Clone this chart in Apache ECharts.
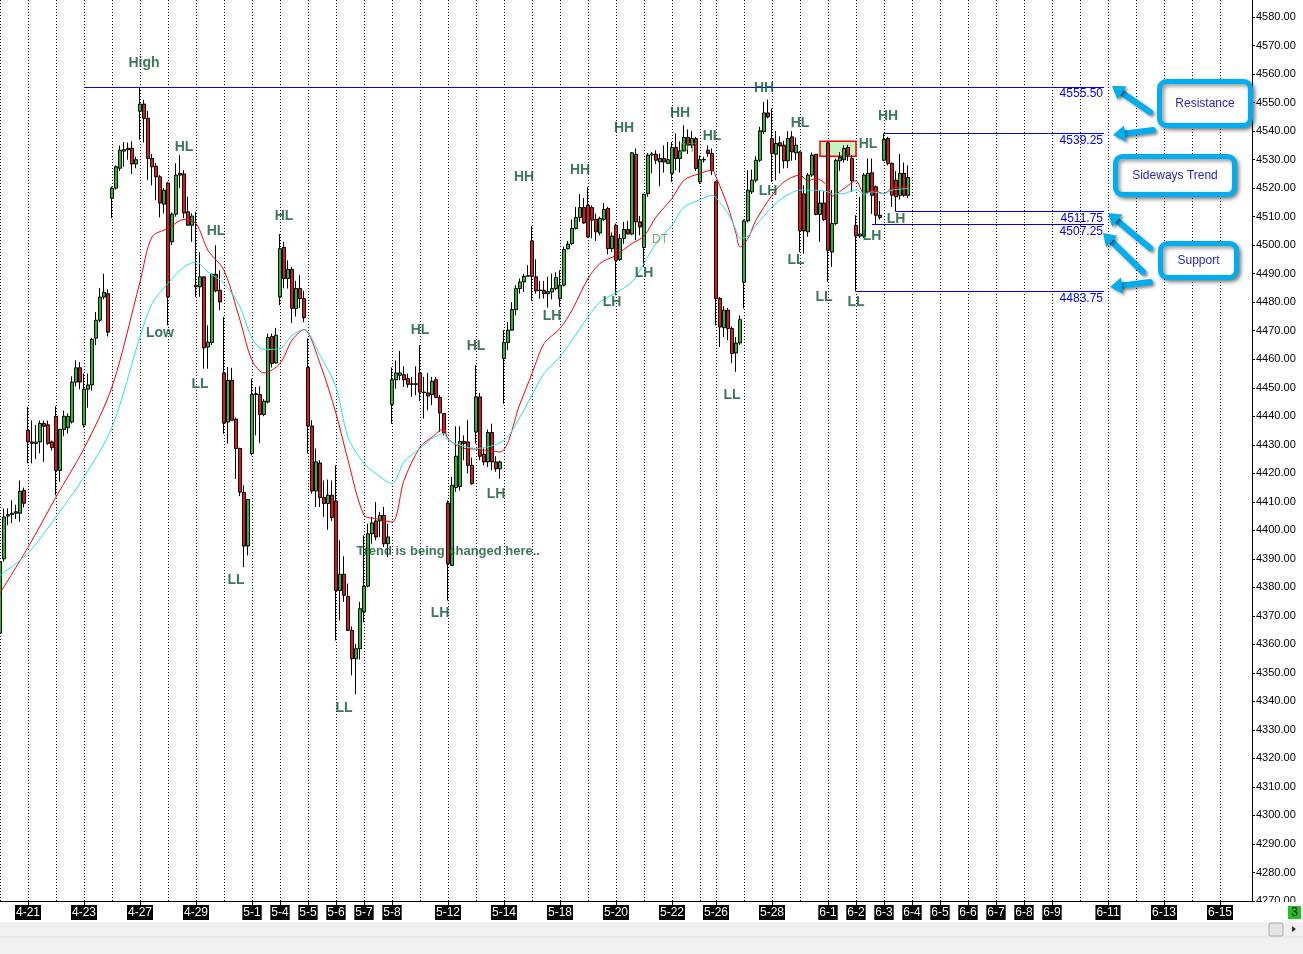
<!DOCTYPE html>
<html lang="en">
<head>
    <meta charset="UTF-8">
    <title>Support / Resistance</title>
    <script src="https://cdn.jsdelivr.net/npm/echarts@6.0.0/dist/echarts.min.js"></script>
    <style>
        html, body { margin: 0; padding: 0; background: #fff; }
        #chart { width: 1303px; height: 954px; }
    </style>
</head>
<body>
    <div id="chart"></div>
    <script>
        // trading days and how many bar slots each one takes on the axis
        const dayLabels = ['4-20','4-21','4-22','4-23','4-24','4-27','4-28','4-29','4-30','5-1',
            '5-4','5-5','5-6','5-7','5-8','5-11','5-12','5-13','5-14','5-15',
            '5-18','5-19','5-20','5-21','5-22','5-25','5-26','5-27','5-28','5-29',
            '6-1','6-2','6-3','6-4','6-5','6-6','6-7','6-8','6-9','6-10',
            '6-11','6-12','6-13','6-14','6-15',''];
        const daySlots = [7,7,7,7,7,7,7,7,7,7, 7,7,7,7,7,7,7,7,7,7, 7,7,7,7,7,4,7,7,7,7,
            7,7,7,7,7,7,7,7,7,7, 7,7,7,7,7,2];
        const shownDates = ['4-21','4-23','4-27','4-29','5-1','5-4','5-5','5-6','5-7','5-8',
            '5-12','5-14','5-18','5-20','5-22','5-26','5-28','6-1','6-2','6-3',
            '6-4','6-5','6-6','6-7','6-8','6-9','6-11','6-13','6-15'];
        const yTicks = { min: 4270, max: 4586, step: 10 };

        // open, close, low, high
        const bars = [
            [4364,4389,4362,4396],[4390,4404.7,4389,4407.7],[4405,4405.5,4401.8,4407.7],[4405.5,4406,4402.5,4410.5],
            [4406,4406.5,4404,4409],[4406,4413.7,4403,4417.5],[4414,4409.5,4408,4415],
            [4435,4431,4423.5,4443.3],[4431,4430.5,4423.5,4438.6],[4430.5,4431,4425,4437],[4431,4437.5,4427,4438.5],
            [4437.5,4436.5,4424,4438.5],[4437,4430.5,4430,4438.5],[4431,4429,4428,4431.5],
            [4440,4421,4412.3,4443.5],[4421,4435.4,4417,4435.5],[4435.4,4440,4433,4442],[4436,4440,4434,4441],
            [4438,4452,4437.5,4454],[4452,4457,4450.5,4459.6],[4457,4452,4449.5,4459],
            [4437,4449.5,4436,4455],[4449.5,4451,4443,4455],[4451,4467,4449,4467.5],[4467.4,4473.7,4465,4476.6],
            [4473.7,4481.8,4473,4485],[4481.8,4483.5,4481,4490],[4483,4469.5,4468,4484.5],
            [4516.5,4520,4509.5,4520.5],[4520,4527.5,4519.5,4528],[4527,4533.3,4526,4535],[4533,4533.5,4527.5,4536.2],
            [4533.5,4534,4530,4536],[4534,4528.5,4525,4536.5],[4528.5,4530,4527,4531],
            [4547,4549.5,4537,4555.5],[4549.5,4544.5,4536,4551],[4544.5,4530.4,4522.8,4547.1],[4530.4,4527.5,4521,4532],
            [4527.7,4524,4515.8,4528.8],[4524,4514.8,4509.8,4524.6],[4514.4,4519.3,4511.2,4520],
            [4521.8,4481.9,4471.9,4522.2],[4501.2,4510.9,4500,4511.5],[4510.9,4524.6,4510,4528.7],[4524.6,4525.2,4520,4531.6],
            [4525,4511.3,4509.5,4526.3],[4511.7,4507,4507,4517],[4507,4510.2,4501.2,4511.2],
            [4486,4485.4,4481.9,4511.7],[4485.4,4488.9,4481.9,4497.6],[4488.9,4464,4456.7,4489],[4464.3,4466,4456.7,4471.9],
            [4465.9,4489.8,4465,4490],[4489.8,4484,4483.5,4500],[4484.2,4480.1,4477.2,4491.2],
            [4455.2,4437.6,4433.9,4474.8],[4438,4452.6,4430.4,4457.3],[4452.6,4438.6,4438.6,4457],[4439,4428.7,4418,4439.5],
            [4428.7,4413.4,4412,4429],[4413.3,4394.5,4387.1,4415.8],[4394.5,4410.8,4391.2,4411],
            [4426.9,4447.6,4426.3,4453.2],[4447.6,4447.9,4433.3,4450.3],[4447.6,4440.6,4430.6,4450.5],[4440.6,4445.3,4440,4446],
            [4445,4467.6,4444.5,4469],[4468,4458.5,4457.1,4469],[4458.7,4468.4,4458.5,4471],
            [4481.9,4498.8,4479,4503.9],[4499.2,4488.3,4484.9,4501.2],[4488.3,4491.5,4484.8,4494.7],[4491.5,4477.9,4472.7,4492.4],
            [4477.8,4484.8,4475,4487.5],[4484.8,4481.3,4478,4489.5],[4481.3,4474.6,4473,4484],
            [4457.1,4436.6,4426.9,4467.3],[4436.6,4413.8,4412.9,4438.6],[4413.8,4424,4408.2,4428.7],[4423.6,4411.5,4408.2,4424.6],
            [4411.5,4409.4,4404.7,4417.5],[4409.4,4412.3,4400.2,4417.8],[4412.3,4404.5,4403.3,4417.5],
            [4410.3,4378.9,4361.4,4422.8],[4378.9,4384.6,4368.4,4396.5],[4384.6,4377.2,4374.9,4390.9],[4376.8,4364.9,4364.9,4381.3],
            [4364.9,4355,4349.1,4366.3],[4355,4358.5,4342.5,4360.2],[4358.5,4372.5,4354.7,4374.9],
            [4371.4,4380.4,4367.8,4398.2],[4380.4,4398.8,4380,4402.3],[4398.8,4402.6,4395.3,4404.7],[4403.3,4397.7,4396.5,4409.9],
            [4403.3,4405.2,4397.7,4406.4],[4405.2,4395.3,4394.1,4408.2],[4395.3,4397.7,4390.6,4402.3],
            [4444.2,4452.8,4437.4,4457.1],[4452.8,4455.2,4449.7,4459.6],[4454.4,4455.2,4452.6,4462.9],[4454.6,4452.8,4450.3,4457.5],
            [4453.2,4451.2,4450,4455],[4451.2,4451.4,4446.8,4453.8],[4451.4,4451.2,4447.4,4457.5],
            [4455.2,4448.5,4445.4,4464.9],[4448.5,4448.3,4439.2,4453.8],[4448.2,4447.1,4442.1,4455.2],[4447.6,4452.3,4443.9,4453.8],
            [4452.8,4446.6,4446.6,4453.8],[4446.6,4441.2,4434.5,4447.5],[4441,4434.1,4433.3,4441],
            [4409.6,4388.3,4375.4,4410.5],[4387.7,4415.8,4387.7,4418.7],[4415,4426,4413.5,4436.5],[4415.4,4431.2,4414,4436.5],
            [4431.2,4430.5,4424.6,4433.3],[4431,4422.8,4420,4438.6],[4422.8,4416.4,4416,4425.5],
            [4434.5,4446.8,4430.4,4457.9],[4446.8,4426,4424.6,4448.2],[4426.7,4424,4422.8,4428.7],[4424,4434.3,4422.2,4435.3],
            [4434.3,4424,4421.1,4437.4],[4424,4421.6,4420.5,4426],[4421.6,4424,4418.1,4424.5],
            [4460.2,4465.9,4444.4,4470.2],[4465.9,4470.2,4463.2,4473.1],[4470.2,4477.4,4470,4480],[4477.4,4484.8,4475.4,4486],
            [4484.8,4487.1,4483,4488.3],[4487.1,4489.1,4483.6,4490],[4489.1,4489.3,4489,4493],
            [4501.5,4489.1,4480.5,4506.7],[4488.9,4484,4483,4495],[4484.1,4484.3,4481.3,4487.5],[4484.2,4483,4481.3,4487.5],
            [4483,4483.7,4478.1,4488.9],[4483.6,4484.8,4481,4490],[4484.8,4488.7,4484.2,4490.5],
            [4481.3,4486,4478.4,4491.2],[4486,4498.5,4485.5,4499.5],[4498.8,4500.4,4498.5,4501.5],[4500.6,4505.9,4500,4509],
            [4505.9,4509.7,4505.5,4513.4],[4509.7,4513.2,4508.2,4517.9],[4513.2,4507.8,4507.5,4516.5],
            [4514,4502.9,4502.7,4520.5],[4513.2,4508.8,4502.4,4514],[4509.1,4504.7,4501.5,4511.1],[4504.3,4509.4,4503.5,4510],
            [4509.1,4512.5,4508.5,4514.8],[4512.9,4498.8,4496.8,4513.5],[4498.8,4503.2,4497.6,4504.5],
            [4507,4494.7,4482.5,4507.6],[4495,4502.4,4494.5,4503.9],[4502.4,4505.5,4500.5,4508.2],[4505.5,4503.9,4503.9,4508.5],
            [4503.9,4532.4,4503.5,4532.7],[4531.9,4508.2,4501.8,4533.9],[4508.2,4506.4,4503.5,4510.2],
            [4499.2,4517.9,4492.4,4518],[4518.1,4531.6,4517,4532.4],[4531.6,4532,4525.2,4532.7],[4531.9,4529.8,4528.5,4533.3],
            [4529.2,4530.4,4520.7,4532.2],[4530.4,4529.2,4525.5,4535],[4528.7,4530,4528.5,4536.2],
            [4525.2,4534.3,4522.2,4536.2],[4534.3,4530.4,4526.3,4539.2],[4530.4,4533.1,4525.5,4536.4],[4533.1,4537.8,4532.8,4542.1],
            [4537.8,4535.1,4532,4540.6],[4535.1,4537.4,4534,4540],[4537.4,4526.9,4526,4538],
            [4522.2,4530,4521.5,4531.5],[4529.9,4530.1,4529,4531],[4533.3,4532.2,4531,4535],[4532.2,4526.1,4524.6,4533.9],
            [4522.2,4481.3,4471.9,4522.5],[4481.3,4471.3,4464.3,4481.9],[4471.1,4477.2,4467.8,4478.6],[4477.2,4470.8,4466.7,4478],
            [4470.8,4462,4458.7,4471.5],[4462.2,4465.7,4455.6,4467.8],[4465.7,4473.9,4465,4475.4],
            [4487,4508.5,4477.8,4509],[4508.5,4519.3,4508,4526.3],[4518.7,4522.8,4518,4526.5],[4522.8,4529.8,4522,4531.2],
            [4529.8,4540.1,4529.2,4541.5],[4539.8,4546.4,4539,4550.3],[4546.4,4545,4544.5,4551.1],
            [4537.4,4532.2,4522.2,4548],[4531.9,4535.7,4522.8,4540.1],[4535.9,4534.8,4525.2,4538.2],[4535.1,4529.6,4526.9,4536.6],
            [4529.6,4537.4,4527,4540],[4538,4532.7,4529.6,4540],[4532.4,4535.1,4529.8,4537.7],
            [4532.7,4505,4497.6,4533],[4518,4505,4497,4521],[4504.7,4524.6,4503,4525.3],[4524.6,4531.6,4524,4532.5],
            [4531.9,4510.8,4510.5,4532],[4510.8,4514.8,4501.2,4519.3],[4514.8,4509,4508.5,4518.9],
            [4535.9,4498.2,4487.1,4536.2],[4497.6,4507.6,4492.4,4519.3],[4507.6,4529.8,4507,4530.4],[4529.6,4530.8,4526.1,4532.7],
            [4530,4533.9,4529,4535],[4534.3,4531.6,4529.5,4535.2],[4530.4,4522.6,4518.7,4531.5],
            [4507,4503.2,4483.75,4510.5],[4503.2,4503.9,4502.5,4517],[4503.2,4524.6,4502.5,4525.3],[4518.7,4525.2,4518,4530.4],
            [4525.4,4517.5,4511,4530.4],[4520.5,4510.5,4507.25,4521],[4510.5,4509.7,4509,4515.5],
            [4529.8,4537.1,4529.5,4539.25],[4537.4,4528.7,4528,4538],[4528.7,4517.5,4513.4,4529],[4522.8,4517,4511.75,4526],
            [4517.5,4525.2,4516,4532],[4525.2,4517.5,4517,4529],[4517.5,4523.75,4516.5,4528]
        ];

        // moving averages: [bar slot, value]
        const maFast = [[0,4378],[7,4394],[14,4411.7],[21,4428.7],[28,4450.3],[35,4487.1],[38,4502.9],[42,4505.9],
            [46,4509],[49,4507.6],[52,4498.2],[56,4491.2],[60,4473.7],[63,4459.6],[66,4455.2],[70,4458.5],
            [73,4466.7],[76,4470.4],[80,4458.5],[84,4441],[87,4424.6],[91,4405.3],[94,4404.1],[98,4402.9],
            [101,4417.5],[105,4429.2],[108,4432.7],[111,4435.7],[112,4432.2],[116,4428.7],[119,4428.5],[125,4427.5],
            [130,4444.4],[133,4455],[136,4465.5],[140,4470.8],[143,4477.2],[147,4488.3],[150,4493.6],[154,4496.5],
            [158,4500.6],[161,4503.2],[164,4509.9],[168,4516.4],[171,4522.8],[175,4525.2],[178,4526.3],[179,4524],
            [182,4513.4],[184,4504.1],[185,4499.4],[187,4502.4],[189,4508.8],[193,4517.5],[196,4522.2],[200,4524.6],
            [202,4522.6],[204,4523.4],[207,4520.7],[208,4517.2],[211,4519.9],[214,4522.6],[216,4518.1],[218,4519.3],
            [221,4518.1],[223,4519.9],[227,4520.7]];
        const maSlow = [[0,4384.2],[7,4392],[14,4404.7],[21,4418.7],[28,4436.2],[35,4467.8],[38,4479.5],[42,4486.6],
            [46,4492.4],[49,4494.1],[52,4490.6],[56,4486.6],[60,4478.4],[63,4467.3],[66,4463.4],[70,4463.8],
            [73,4468.4],[76,4470.4],[80,4461.4],[84,4450.3],[87,4432.7],[91,4423.4],[94,4419.9],[98,4416.4],
            [101,4424],[105,4428.7],[108,4432.2],[111,4434],[112,4431.6],[116,4429.5],[119,4428.7],[126,4431.6],
            [130,4439.8],[133,4447.4],[136,4455],[140,4460.8],[143,4466.7],[147,4474.8],[150,4480.1],[154,4483.3],
            [158,4487.1],[161,4493.6],[164,4500.6],[168,4507],[171,4513.4],[175,4516],[178,4517.5],[179,4516.7],
            [182,4511.1],[184,4505.3],[185,4502.4],[187,4503.2],[189,4507],[193,4513.4],[196,4516.9],[200,4519.3],
            [204,4519.3],[207,4518.7],[208,4518],[211,4518.1],[214,4519.5],[216,4517.9],[218,4518.7],[221,4518.1],
            [223,4519.3],[227,4519.9]];

        // horizontal levels: [value, first slot, last slot]
        const levels = [[4555.5,21,276],[4539.25,221,276],[4511.75,224,276],[4507.25,218,276],[4483.75,214,276]];
        const lastPrice = 4523.75;
        const sidewaysBox = [[205,4536.5],[214,4531.2]];

        // swing labels: [slot, value, text]
        const swings = [
            [36.25,4563.9,'High'],[45.75,4534.4,'HL'],[54,4504.9,'HL'],[40,4469.1,'Low'],[50.25,4451.2,'LL'],
            [71,4510.2,'HL'],[59.25,4382.5,'LL'],[86.25,4337.5,'LL'],[104.75,4470.2,'HL'],[118.75,4464.6,'HL'],
            [109.75,4370.9,'LH'],[123.75,4412.6,'LH'],[130.5,4523.9,'HH'],[137.75,4475.1,'LH'],[144.5,4526.3,'HH'],
            [155.5,4541.1,'HH'],[152.75,4480,'LH'],[160.75,4490.2,'LH'],[169.5,4546.3,'HH'],[177.75,4538.2,'HL'],
            [183.25,4447.4,'LL'],[190.5,4555.1,'HH'],[191.75,4518.9,'LH'],[199.75,4542.8,'HL'],[199.25,4494.7,'LL'],
            [205.5,4481.8,'LL'],[216.75,4535.4,'HL'],[214.25,4480,'LL'],[218,4503.2,'LH'],[221.5,4545.3,'HH'],
            [223.75,4509.1,'LH']];
        const dtMarks = [[165,4501.8,'DT'],[171.5,4533.7,'DT']];
        const trendNote = [89.25,4392.6,'Trend is being changed here..'];

        // build the slot axis
        const categories = [];
        dayLabels.forEach((d, i) => {
            for (let k = 0; k < daySlots[i]; k++) categories.push(d + '|' + k);
        });
        const dayOf = v => v.split('|')[0];
        const isDayStart = v => v.endsWith('|0') && dayOf(v) !== '';
        const isShown = v => v.endsWith('|0') && shownDates.includes(dayOf(v));

        const chart = echarts.init(document.getElementById('chart'));
        const txtGreen = '#0a5630';
        const lvlLines = levels.map(l => [
            { coord: [l[1], l[0]], label: { formatter: l[0].toFixed(2) } },
            { coord: [l[2], l[0]] }
        ]);

        // callout boxes and arrows on the right
        const cyan = '#00aeef';
        function arrow(tx, ty, hx, hy) {
            const dx = hx - tx, dy = hy - ty, len = Math.hypot(dx, dy);
            const ux = dx / len, uy = dy / len, nx = -uy, ny = ux;
            const bx = hx - ux * 12, by = hy - uy * 12;
            const sh = { shadowBlur: 3, shadowColor: 'rgba(0,0,0,0.45)', shadowOffsetX: 2, shadowOffsetY: 2 };
            return [
                { type: 'line', z: 100, shape: { x1: tx, y1: ty, x2: bx, y2: by },
                  style: Object.assign({ stroke: cyan, lineWidth: 6, lineCap: 'round' }, sh) },
                { type: 'polygon', z: 100, shape: { points: [[hx, hy], [bx + nx * 8, by + ny * 8], [bx - nx * 8, by - ny * 8]] },
                  style: Object.assign({ fill: cyan }, sh) }
            ];
        }
        function callout(x, y, w, h, text) {
            return [
                { type: 'rect', z: 100, shape: { x: x, y: y, width: w, height: h, r: 7 },
                  style: { fill: '#fff', stroke: cyan, lineWidth: 5, shadowBlur: 4, shadowColor: 'rgba(0,0,0,0.45)', shadowOffsetX: 2, shadowOffsetY: 2 } },
                { type: 'text', z: 101, x: x + w / 2, y: y + h / 2,
                  style: { text: text, fill: '#2323d6', font: '12px "Liberation Sans", Arial', align: 'center', verticalAlign: 'middle' } }
            ];
        }

        const graphics = [].concat(
            arrow(1150, 112, 1112, 86),
            arrow(1153, 130, 1113, 135),
            arrow(1150, 248, 1108, 213),
            arrow(1143, 272, 1103, 233),
            arrow(1150, 282, 1110, 287),
            callout(1159.5, 81.5, 91, 44, 'Resistance'),
            callout(1115.5, 156.5, 119, 38, 'Sideways Trend'),
            callout(1160.5, 243.5, 76, 34, 'Support'),
            [
                { type: 'rect', z: 90, shape: { x: 1253, y: 902, width: 50, height: 20 }, style: { fill: '#fff' } },
                { type: 'rect', z: 90, shape: { x: 0, y: 922, width: 1303, height: 32 }, style: { fill: '#f0f0f0' } },
                { type: 'line', z: 91, shape: { x1: 0, y1: 937, x2: 1303, y2: 937 }, style: { stroke: '#e2e2e2', lineWidth: 1 } },
                { type: 'rect', z: 92, shape: { x: 1269, y: 923, width: 14, height: 13, r: 2 }, style: { fill: '#e4e4e4', stroke: '#a8a8a8', lineWidth: 1 } },
                { type: 'polygon', z: 92, shape: { points: [[1292, 926], [1296, 929], [1292, 932]] }, style: { fill: '#333' } },
                { type: 'rect', z: 92, shape: { x: 1288, y: 906, width: 13, height: 13 }, style: { fill: '#1fc41f' } },
                { type: 'text', z: 93, x: 1294.5, y: 913, style: { text: '3', fill: '#000', font: '12px "Liberation Sans", Arial', align: 'center', verticalAlign: 'middle' } }
            ]
        );

        const labelItem = (s, extra) => ({
            value: [s[0], s[1]], name: s[2],
            label: Object.assign({ formatter: s[2] }, extra || {})
        });

        chart.setOption({
            animation: false,
            backgroundColor: '#fff',
            grid: { left: 0, right: 51, top: 0, bottom: 53, outerBoundsMode: 'none' },
            xAxis: {
                type: 'category',
                data: categories,
                boundaryGap: false,
                axisLine: { lineStyle: { color: '#000', width: 1 } },
                axisTick: { interval: (i, v) => isShown(v), length: 4, lineStyle: { color: '#000' } },
                axisLabel: {
                    interval: (i, v) => isShown(v),
                    formatter: v => dayOf(v),
                    color: '#fff', backgroundColor: '#000', padding: [2, 1, 1, 1],
                    fontSize: 12, fontFamily: '"Liberation Sans", Arial', margin: 4
                },
                splitLine: {
                    show: true,
                    interval: (i, v) => isDayStart(v),
                    lineStyle: { color: '#000', width: 1, type: [1, 2] }
                }
            },
            yAxis: {
                type: 'value',
                position: 'right',
                min: yTicks.min, max: yTicks.max, interval: yTicks.step,
                axisLine: { show: true, lineStyle: { color: '#000' } },
                axisTick: { show: true, length: 3, lineStyle: { color: '#000' } },
                axisLabel: { formatter: v => v.toFixed(2), color: '#000', fontSize: 11, fontFamily: '"Liberation Sans", Arial', margin: 4, showMaxLabel: false },
                splitLine: { show: false }
            },
            graphic: graphics,
            series: [
                {
                    name: 'box', type: 'line', data: [], z: 1,
                    markArea: {
                        silent: true,
                        itemStyle: { color: '#c4f5bf', borderColor: '#ff0000', borderWidth: 1.5 },
                        data: [[{ coord: sidewaysBox[0] }, { coord: sidewaysBox[1] }]]
                    }
                },
                {
                    name: 'price', type: 'candlestick', z: 3,
                    data: bars, barWidth: 3,
                    itemStyle: { color: '#19c319', color0: '#ee1111', borderColor: '#000', borderColor0: '#000', borderWidth: 1 }
                },
                {
                    name: 'fast', type: 'line', z: 4, data: maFast, smooth: 0.3, symbol: 'none',
                    lineStyle: { color: '#ff0000', width: 1 }
                },
                {
                    name: 'slow', type: 'line', z: 4, data: maSlow, smooth: 0.3, symbol: 'none',
                    lineStyle: { color: '#22e3ef', width: 1 }
                },
                {
                    name: 'levels', type: 'line', data: [], z: 5, clip: false,
                    markLine: {
                        silent: true, symbol: 'none',
                        lineStyle: { color: '#0000ff', width: 1, type: 'solid', opacity: 1 },
                        label: { position: 'insideEndBottom', color: '#0000ff', fontSize: 12, fontFamily: '"Liberation Sans", Arial', distance: 1 },
                        data: lvlLines
                    }
                },
                {
                    name: 'last', type: 'line', data: [], z: 6, clip: false,
                    markLine: {
                        silent: true, symbol: 'none',
                        lineStyle: { opacity: 0 },
                        label: {
                            position: 'end', distance: 3, formatter: lastPrice.toFixed(2),
                            color: '#fff', backgroundColor: '#000', padding: [2, 2, 1, 2],
                            fontSize: 12, fontFamily: '"Liberation Sans", Arial'
                        },
                        data: [{ yAxis: lastPrice }]
                    }
                },
                {
                    name: 'swings', type: 'scatter', z: 7, symbolSize: 1,
                    itemStyle: { color: 'rgba(0,0,0,0)' },
                    label: { show: true, position: 'inside', color: txtGreen, fontSize: 14, fontWeight: 'bold', fontFamily: '"Liberation Sans", Arial' },
                    data: swings.map(s => labelItem(s))
                        .concat(dtMarks.map(s => labelItem(s, { color: '#5d9a3a', fontWeight: 'normal', fontSize: 12 })))
                        .concat([labelItem(trendNote, { position: 'right', distance: 0, fontSize: 13 })])
                }
            ]
        });
    </script>
</body>
</html>
